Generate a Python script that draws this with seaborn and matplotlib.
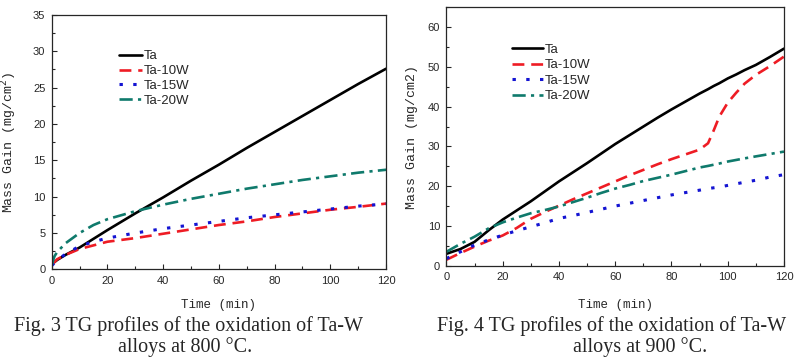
import numpy as np
import pandas as pd
import matplotlib
matplotlib.use('Agg')
import matplotlib.pyplot as plt
from matplotlib.ticker import MultipleLocator
import seaborn as sns

# TG data at 800 C (time in min, mass gain in mg/cm2)
t800 = [0, 1, 2, 5, 10, 15, 20, 30, 40, 50, 60, 70, 80, 90, 100, 110, 120]
ta_800 = [0.8, 1.0, 1.3, 2.0, 3.0, 4.2, 5.4, 7.7, 9.9, 12.2, 14.4, 16.7, 18.9, 21.1, 23.3, 25.5, 27.6]
ta10w_800 = [0.7, 1.0, 1.4, 2.0, 2.8, 3.3, 3.8, 4.3, 4.9, 5.5, 6.1, 6.6, 7.2, 7.7, 8.2, 8.6, 9.05]
ta15w_800 = [0.5, 0.9, 1.3, 2.1, 3.2, 3.8, 4.3, 5.0, 5.6, 6.1, 6.6, 7.1, 7.5, 7.9, 8.3, 8.7, 9.0]
ta20w_800 = [0.6, 1.8, 2.4, 3.6, 5.0, 6.1, 6.9, 8.0, 8.9, 9.7, 10.4, 11.1, 11.7, 12.3, 12.8, 13.3, 13.7]

# TG data at 900 C
t900 = [0, 5, 10, 15, 20, 25, 30, 35, 40, 45, 50, 55, 60, 65, 70, 75, 80, 85, 90, 93, 95, 97, 100, 103, 106, 110, 115, 120]
ta_900 = [3.0, 4.2, 6.0, 8.9, 11.6, 13.9, 16.2, 18.7, 21.2, 23.5, 25.8, 28.2, 30.6, 32.8, 35.0, 37.2, 39.3,
          41.3, 43.3, 44.4, 45.2, 45.9, 47.1, 48.1, 49.2, 50.5, 52.5, 54.6]
ta10w_900 = [1.5, 3.2, 4.8, 6.3, 7.6, 9.5, 11.8, 13.5, 15.1, 16.7, 18.2, 19.7, 21.2, 22.7, 24.1, 25.5, 26.8,
             28.0, 29.2, 30.8, 34.0, 37.5, 41.0, 43.5, 45.8, 48.0, 50.2, 52.6]
ta15w_900 = [1.8, 3.5, 5.2, 6.5, 7.7, 8.8, 9.8, 10.8, 11.9, 12.6, 13.4, 14.2, 15.0, 15.7, 16.4, 17.1, 17.8,
             18.4, 19.0, 19.4, 19.6, 19.8, 20.2, 20.6, 21.0, 21.5, 22.3, 22.9]
ta20w_900 = [3.5, 5.5, 7.3, 9.4, 10.9, 12.1, 13.2, 14.0, 14.9, 16.0, 17.1, 18.3, 19.4, 20.3, 21.3, 22.1, 22.9,
             23.8, 24.7, 25.1, 25.4, 25.7, 26.2, 26.6, 27.0, 27.5, 28.1, 28.7]

labels = ['Ta', 'Ta-10W', 'Ta-15W', 'Ta-20W']
colors = ['#000000', '#ee1c24', '#1414d2', '#0f7a6c']
styles = ['-', (0, (4.5, 2.6)), (0, (1.1, 3.4)), (0, (5, 2, 1.2, 2))]
widths = [1.9, 1.9, 2.2, 1.9]

sns.set_style('ticks')
plt.rcParams['font.family'] = ['Liberation Sans', 'DejaVu Sans']
plt.rcParams['xtick.direction'] = 'in'
plt.rcParams['ytick.direction'] = 'in'

fig = plt.figure(figsize=(8, 3.64), dpi=100)
ax1 = fig.add_axes([0.0646, 0.260, 0.418, 0.699])
ax2 = fig.add_axes([0.558, 0.270, 0.422, 0.710])

panels = [
    (ax1, t800, [ta_800, ta10w_800, ta15w_800, ta20w_800]),
    (ax2, t900, [ta_900, ta10w_900, ta15w_900, ta20w_900]),
]
for ax, t, series in panels:
    for lab, ys, c, ls, lw in zip(labels, series, colors, styles, widths):
        sns.lineplot(x=t, y=ys, ax=ax, color=c, linestyle=ls, linewidth=lw,
                     label=lab, dash_capstyle='butt')
    ax.set_xlim(0, 120)
    ax.xaxis.set_major_locator(MultipleLocator(20))
    ax.xaxis.set_minor_locator(MultipleLocator(10))
    ax.tick_params(which='major', length=3.5, width=0.8, labelsize=8, pad=4.5)
    ax.tick_params(which='minor', length=2, width=0.8)
    for sp in ax.spines.values():
        sp.set_linewidth(0.9)
    ax.set_xlabel('Time (min)', family='Liberation Mono', fontsize=9)

ax1.set_ylim(0, 35)
ax1.yaxis.set_major_locator(MultipleLocator(5))
ax1.yaxis.set_minor_locator(MultipleLocator(2.5))
ax1.set_ylabel('Mass Gain (mg/cm$^{2}$)', family='Liberation Mono', fontsize=9.5)
ax1.xaxis.set_label_coords(0.5, -0.115)
ax1.yaxis.set_label_coords(-0.098, 0.5)

ax2.set_ylim(0, 65)
ax2.yaxis.set_major_locator(MultipleLocator(10))
ax2.yaxis.set_minor_locator(MultipleLocator(5))
ax2.set_ylabel('Mass Gain (mg/cm2)', family='Liberation Mono', fontsize=9.5)
ax2.xaxis.set_label_coords(0.5, -0.13)
ax2.yaxis.set_label_coords(-0.085, 0.5)

ax1.legend(loc='upper left', bbox_to_anchor=(0.2, 0.862), frameon=False, fontsize=9.5,
           handlelength=1.75, handletextpad=0.15, labelspacing=0.2, borderpad=0, borderaxespad=0)
ax2.legend(loc='upper left', bbox_to_anchor=(0.195, 0.86), frameon=False, fontsize=9.5,
           handlelength=2.3, handletextpad=0.15, labelspacing=0.25, borderpad=0, borderaxespad=0)

cap = dict(family='Liberation Serif', fontsize=14.5, ha='center', va='baseline')
fig.text(188 / 800, 1 - 331 / 364, 'Fig. 3 TG profiles of the oxidation of Ta-W', **cap)
fig.text(185 / 800, 1 - 352 / 364, 'alloys at 800 \u00b0C.', **cap)
fig.text(612 / 800, 1 - 331 / 364, 'Fig. 4 TG profiles of the oxidation of Ta-W', **cap)
fig.text(640 / 800, 1 - 352 / 364, 'alloys at 900 \u00b0C.', **cap)

fig.savefig('out.png', dpi=100)
